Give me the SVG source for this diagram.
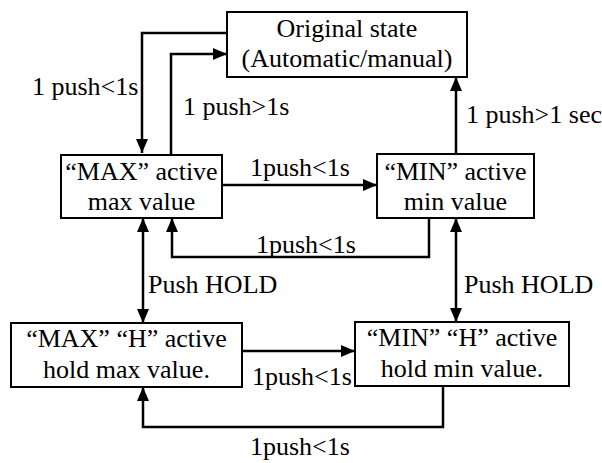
<svg xmlns="http://www.w3.org/2000/svg" width="602" height="463" viewBox="0 0 602 463">
<style>
text{font-family:'Liberation Serif','Times New Roman',serif;font-size:26px;fill:#000}
.c{text-anchor:middle}
.box{fill:#fff;stroke:#000;stroke-width:2}
.ln{fill:none;stroke:#000;stroke-width:2.5}
</style>
<defs>
<marker id="ah" viewBox="0 0 14 12" refX="14" refY="6" markerWidth="14" markerHeight="12" markerUnits="userSpaceOnUse" orient="auto-start-reverse">
<path d="M0,0 L14,6 L0,12 Z" fill="#000"/>
</marker>
</defs>
<g id="connectors">
<path class="ln" d="M227,33 H142 V153" marker-end="url(#ah)"/>
<path class="ln" d="M171,155 V54 H227" marker-end="url(#ah)"/>
<path class="ln" d="M456,154 V77" marker-end="url(#ah)"/>
<path class="ln" d="M222,185 H377" marker-end="url(#ah)"/>
<path class="ln" d="M429,218 V257 H172 V218" marker-end="url(#ah)"/>
<path class="ln" d="M143,218 V323" marker-start="url(#ah)" marker-end="url(#ah)"/>
<path class="ln" d="M456,218 V322" marker-start="url(#ah)" marker-end="url(#ah)"/>
<path class="ln" d="M242,351 H355" marker-end="url(#ah)"/>
<path class="ln" d="M443,386 V427 H143 V387" marker-end="url(#ah)"/>
<text x="32" y="95" font-family="Liberation Serif, serif">1 push&lt;1s</text>
<text x="183" y="115">1 push&gt;1s</text>
<text x="466" y="123">1 push&gt;1 sec</text>
<text x="250" y="176">1push&lt;1s</text>
<text x="256" y="253">1push&lt;1s</text>
<text x="148" y="293">Push HOLD</text>
<text x="464" y="293">Push HOLD</text>
<text x="252" y="385">1push&lt;1s</text>
<text x="250" y="455">1push&lt;1s</text>
</g>
<g id="original">
<rect class="box" x="227" y="12" width="240" height="65"/>
<text class="c" x="347" y="37">Original state</text>
<text class="c" x="347" y="67">(Automatic/manual)</text>
</g>
<g id="max">
<rect class="box" x="61" y="155" width="161" height="63"/>
<text class="c" x="141.5" y="180">“MAX” active</text>
<text class="c" x="141.5" y="210">max value</text>
</g>
<g id="min">
<rect class="box" x="377" y="154" width="157" height="64"/>
<text class="c" x="455.5" y="180">“MIN” active</text>
<text class="c" x="455.5" y="210">min value</text>
</g>
<g id="maxh">
<rect class="box" x="11" y="323" width="231" height="64"/>
<text class="c" x="126.5" y="347">“MAX” “H” active</text>
<text class="c" x="126.5" y="378">hold max value.</text>
</g>
<g id="minh">
<rect class="box" x="355" y="322" width="214" height="64"/>
<text class="c" x="462" y="346">“MIN” “H” active</text>
<text class="c" x="462" y="377">hold min value.</text>
</g>
</svg>
